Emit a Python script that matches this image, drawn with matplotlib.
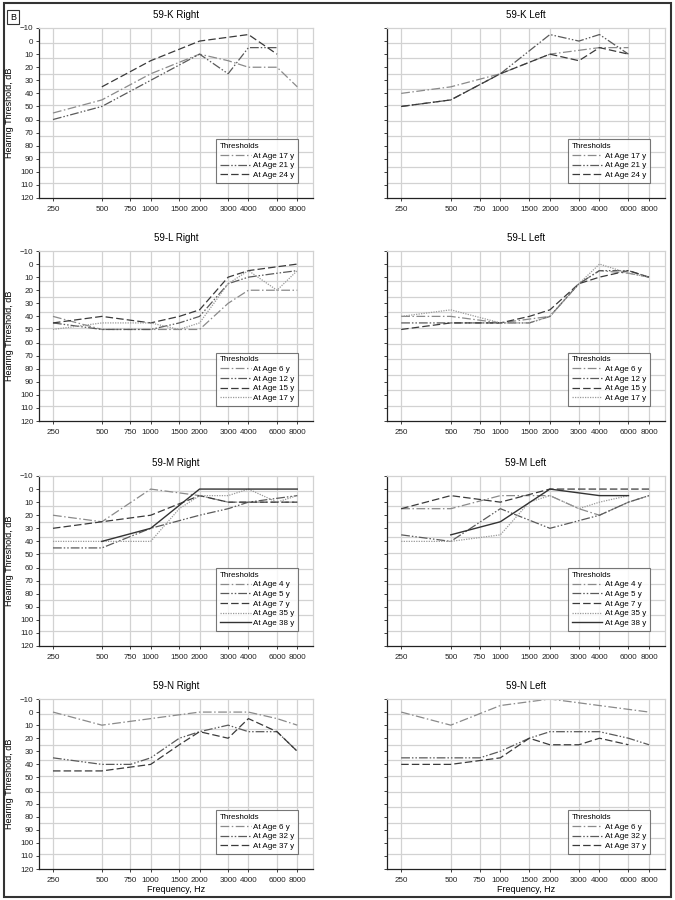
import numpy as np
import matplotlib
matplotlib.use("Agg")
import matplotlib.pyplot as plt
from matplotlib.patches import Rectangle
from matplotlib.ticker import FixedLocator, FixedFormatter, NullLocator

plt.rcParams['font.family'] = ['Liberation Sans', 'DejaVu Sans']

FREQS = [250, 500, 750, 1000, 1500, 2000, 3000, 4000, 6000, 8000]
FREQ_LABELS = ['250', '500', '750', '1000', '1500', '2000', '3000', '4000', '6000', '8000']
Y_TICKS = [-10, 0, 10, 20, 30, 40, 50, 60, 70, 80, 90, 100, 110, 120]
N = None

# 59-K
k_ages = ['At Age 17 y', 'At Age 21 y', 'At Age 24 y']
k_r_17 = [55, 45, N, 25, N, 10, 15, 20, 20, 35]
k_r_21 = [60, 50, N, 30, N, 10, 25, 5, 5, N]
k_r_24 = [N, 35, N, 15, N, 0, N, -5, 10, N]
k_l_17 = [40, 35, N, 25, N, 10, N, 5, 5, N]
k_l_21 = [50, 45, N, 25, N, -5, 0, -5, 10, N]
k_l_24 = [50, 45, N, 25, N, 10, 15, 5, 10, N]

# 59-L
l_ages = ['At Age 6 y', 'At Age 12 y', 'At Age 15 y', 'At Age 17 y']
l_r_6 = [40, 50, N, 50, 50, 50, 30, 20, 20, 20]
l_r_12 = [45, 50, N, 50, 45, 40, 15, 10, 7, 5]
l_r_15 = [45, 40, N, 45, 40, 35, 10, 5, N, 0]
l_r_17 = [50, 45, N, 45, 50, 45, 15, 5, 20, 5]
l_l_6 = [40, 40, N, 45, N, 40, 15, 5, 7, 10]
l_l_12 = [45, 45, N, 45, 45, 40, 15, 5, 5, 10]
l_l_15 = [50, 45, N, 45, 40, 35, 15, 10, 5, 10]
l_l_17 = [40, 35, N, 45, 45, 40, 15, 0, 7, 10]

# 59-M
m_ages = ['At Age 4 y', 'At Age 5 y', 'At Age 7 y', 'At Age 35 y', 'At Age 38 y']
m_r_4 = [20, 25, N, 0, N, 5, 10, 10, N, 10]
m_r_5 = [45, 45, N, 30, N, 20, 15, 10, N, 5]
m_r_7 = [30, 25, N, 20, N, 5, 10, 10, N, 10]
m_r_35 = [40, 40, N, 40, 15, 5, 5, 0, 10, 5]
m_r_38 = [N, 40, N, 30, N, 0, 0, 0, 0, 0]
m_l_4 = [15, 15, N, 5, N, 5, 15, 20, 10, 5]
m_l_5 = [35, 40, N, 15, N, 30, N, 20, 10, 5]
m_l_7 = [15, 5, N, 10, N, 0, 0, 0, 0, 0]
m_l_35 = [40, 40, N, 35, 10, 5, 15, 10, 5, N]
m_l_38 = [N, 35, N, 25, N, 0, N, 5, 5, N]

# 59-N
n_ages = ['At Age 6 y', 'At Age 32 y', 'At Age 37 y']
n_r_6 = [0, 10, N, 5, N, 0, 0, 0, 5, 10]
n_r_32 = [35, 40, 40, 35, 20, 15, 10, 15, 15, 30]
n_r_37 = [45, 45, N, 40, 25, 15, 20, 5, 15, 30]
n_l_6 = [0, 10, N, -5, N, -10, N, -5, N, 0]
n_l_32 = [35, 35, 35, 30, 20, 15, 15, 15, 20, 25]
n_l_37 = [40, 40, N, 35, 20, 25, 25, 20, 25, N]

panels = [
    ('59-K Right', k_ages, [k_r_17, k_r_21, k_r_24], 0, 0),
    ('59-K Left', k_ages, [k_l_17, k_l_21, k_l_24], 0, 1),
    ('59-L Right', l_ages, [l_r_6, l_r_12, l_r_15, l_r_17], 1, 0),
    ('59-L Left', l_ages, [l_l_6, l_l_12, l_l_15, l_l_17], 1, 1),
    ('59-M Right', m_ages, [m_r_4, m_r_5, m_r_7, m_r_35, m_r_38], 2, 0),
    ('59-M Left', m_ages, [m_l_4, m_l_5, m_l_7, m_l_35, m_l_38], 2, 1),
    ('59-N Right', n_ages, [n_r_6, n_r_32, n_r_37], 3, 0),
    ('59-N Left', n_ages, [n_l_6, n_l_32, n_l_37], 3, 1),
]

STYLES = [
    dict(ls=(0, (7, 2, 1.2, 2)), color='#8a8a8a', lw=0.9),
    dict(ls=(0, (7, 1.6, 1.2, 1.6, 1.2, 1.6)), color='#5a5a5a', lw=0.9),
    dict(ls=(0, (6, 2.5)), color='#3a3a3a', lw=0.9),
    dict(ls=(0, (1, 1)), color='#9a9a9a', lw=0.9),
    dict(ls='-', color='#333333', lw=1.0),
]

GRID_Y = [1.5, 13, 25, 37, 49, 61, 72.5, 84.5, 96.5, 108.5]

W, H = 675, 900
fig = plt.figure(figsize=(W / 100, H / 100), dpi=100)

col_x = [(39, 274), (387, 278)]
row_top = [28, 251, 476, 699]
AX_H = 170

for title, ages, series, r, c in panels:
    x0, w = col_x[c]
    top = row_top[r]
    ax = fig.add_axes([x0 / W, 1 - (top + AX_H) / H, w / W, AX_H / H])
    ax.set_xscale('log')
    ax.set_xlim(205, 10000)
    ax.set_ylim(120, -10)
    for f in FREQS:
        ax.axvline(f, color='#d2d2d2', lw=0.9, zorder=0)
    for gy in GRID_Y:
        ax.axhline(gy, color='#d2d2d2', lw=0.9, zorder=0)
    handles = []
    for i, vals in enumerate(series):
        st = STYLES[i]
        xs = [f for f, v in zip(FREQS, vals) if v is not None]
        ys = [v for v in vals if v is not None]
        h, = ax.plot(xs, ys, linestyle=st['ls'], color=st['color'], lw=st['lw'])
        handles.append(h)
    ax.xaxis.set_major_locator(FixedLocator(FREQS))
    ax.xaxis.set_major_formatter(FixedFormatter(FREQ_LABELS))
    ax.xaxis.set_minor_locator(NullLocator())
    ax.set_yticks(Y_TICKS)
    ax.tick_params(axis='both', labelsize=5.8, length=2.5, width=0.6, colors='#222222')
    ax.tick_params(axis='x', pad=3)
    ax.tick_params(axis='y', pad=1.5)
    if c == 0:
        ax.set_ylabel('Hearing Threshold, dB', fontsize=6.5, labelpad=4)
    else:
        ax.set_yticklabels([])
    if r == 3:
        ax.set_xlabel('Frequency, Hz', fontsize=6.5, labelpad=1)
    ax.set_title(title, fontsize=7, pad=7)
    for s in ['left', 'bottom']:
        ax.spines[s].set_color('#222222')
        ax.spines[s].set_linewidth(0.9)
    for s in ['top', 'right']:
        ax.spines[s].set_color('#d2d2d2')
        ax.spines[s].set_linewidth(0.9)
    leg = ax.legend(handles, ages, title='Thresholds', loc='lower right',
                    bbox_to_anchor=(0.945, 0.09), fontsize=5.8, title_fontsize=5.8,
                    frameon=True, fancybox=False, edgecolor='#555555',
                    handlelength=3.8, handletextpad=0.3, labelspacing=0.25,
                    borderpad=0.45, borderaxespad=0)
    leg.get_frame().set_linewidth(0.8)
    leg._legend_box.align = 'left'

fig.add_artist(Rectangle((4 / W, 3 / H), 667 / W, 894 / H, transform=fig.transFigure,
                         fill=False, lw=1.5, ec='#333333'))
fig.text(13 / W, 1 - 17 / H, 'B', fontsize=6.5, ha='center', va='center',
         bbox=dict(boxstyle='square,pad=0.3', fc='white', ec='#333333', lw=0.8))

fig.savefig('out.png', dpi=100)
